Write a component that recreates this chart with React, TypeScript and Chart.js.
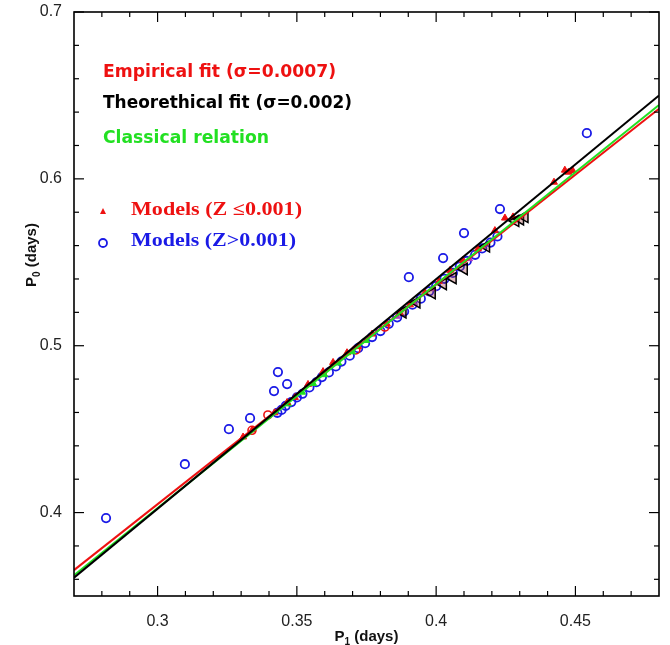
import React, { useEffect, useRef } from 'react';
import { Chart, registerables } from 'chart.js';

Chart.register(...registerables);

// ---- Fit lines (P0 vs P1) ----
const lineX = [0.27, 0.48];
const empiricalY = [0.3655, 0.642];
const theoreticalY = [0.361, 0.65];
const classicalY = [0.3624, 0.6443];

// ---- Models Z > 0.001 (blue open circles) ----
const blueX = [
  0.2815, 0.3098, 0.3256, 0.3332, 0.3418, 0.3432, 0.3465, 0.3902, 0.4025, 0.41, 0.4229, 0.4541,
  0.343, 0.3445, 0.346, 0.348, 0.35, 0.352, 0.3545, 0.357, 0.359, 0.3615, 0.364, 0.366, 0.369,
  0.372, 0.3745, 0.377, 0.38, 0.383, 0.386, 0.3885, 0.3915, 0.3945, 0.3975, 0.4, 0.403, 0.406,
  0.4085, 0.411, 0.414, 0.4165, 0.4195, 0.422,
];
const blueY = [
  0.3967, 0.429, 0.45, 0.4566, 0.4728, 0.4842, 0.477, 0.5411, 0.5525, 0.5675, 0.5819, 0.6274,
  0.4598, 0.4615, 0.464, 0.4662, 0.469, 0.4712, 0.475, 0.4781, 0.4812, 0.484, 0.4876, 0.4905, 0.494,
  0.4985, 0.5015, 0.5052, 0.5088, 0.5131, 0.517, 0.5205, 0.5246, 0.5282, 0.5326, 0.5357, 0.5401, 0.5436,
  0.5475, 0.5508, 0.5545, 0.5583, 0.5618, 0.5655,
];

// ---- Models Z <= 0.001 (red filled triangles) ----
const redX = [
  0.3307, 0.334, 0.342, 0.3465, 0.3493, 0.354, 0.3594, 0.363, 0.368, 0.372, 0.377, 0.3823, 0.387,
  0.3906, 0.396, 0.401, 0.405, 0.4096, 0.415, 0.4211, 0.4247, 0.4276, 0.4423, 0.4462, 0.449, 0.4475,
];
const redY = [
  0.4453, 0.4495, 0.4598, 0.466, 0.469, 0.4768, 0.4845, 0.49, 0.4958, 0.4995, 0.507, 0.513, 0.5196,
  0.5245, 0.5318, 0.5385, 0.5452, 0.5512, 0.558, 0.569, 0.5765, 0.5772, 0.598, 0.6052, 0.605, 0.604,
];

// ---- red open circles ----
const redCircX = [0.3339, 0.3396, 0.3816, 0.3712];
const redCircY = [0.4493, 0.4585, 0.5112, 0.4975];

// ---- black open triangles ----
const blackTriX = [0.388, 0.393, 0.3985, 0.4025, 0.406, 0.41, 0.418, 0.4285, 0.4302, 0.4318];
const blackTriY = [0.52, 0.526, 0.5315, 0.537, 0.5405, 0.546, 0.5595, 0.5748, 0.5758, 0.5772];

// ---- green points ----
const greenX = [0.347, 0.352, 0.356, 0.36, 0.365, 0.37, 0.375];
const greenY = [0.465, 0.472, 0.4772, 0.4825, 0.4895, 0.4962, 0.503];

// ---- magenta points ----
const magX = [0.386, 0.392, 0.399, 0.405, 0.412];
const magY = [0.5175, 0.5255, 0.534, 0.543, 0.552];

// ---- axes ----
const xMajor = [0.3, 0.35, 0.4, 0.45];
const xLabels = ['0.3', '0.35', '0.4', '0.45'];
const xMinor = [0.28, 0.29, 0.31, 0.32, 0.33, 0.34, 0.36, 0.37, 0.38, 0.39, 0.41, 0.42, 0.43, 0.44, 0.46, 0.47];
const yMajor = [0.4, 0.5, 0.6, 0.7];
const yLabels = ['0.4', '0.5', '0.6', '0.7'];
const yMinor = [0.36, 0.38, 0.42, 0.44, 0.46, 0.48, 0.52, 0.54, 0.56, 0.58, 0.62, 0.64, 0.66, 0.68];

const pts = (xs: number[], ys: number[]) => xs.map((v, i) => ({ x: v, y: ys[i] }));

function fitText(ctx: CanvasRenderingContext2D, text: string, x: number, y: number, w: number, font: string, color: string) {
  ctx.save();
  ctx.font = font;
  ctx.fillStyle = color;
  ctx.textAlign = 'left';
  ctx.textBaseline = 'middle';
  const m = ctx.measureText(text).width;
  ctx.translate(x, y);
  ctx.scale(w / m, 1);
  ctx.fillText(text, 0, 0);
  ctx.restore();
}

const decor = {
  id: 'decor',
  afterDraw(chart: any) {
    const { ctx, chartArea: a, scales } = chart;
    const sx = scales.x;
    const sy = scales.y;
    ctx.save();
    ctx.strokeStyle = '#000';
    ctx.lineWidth = 1.2;
    const seg = (x1: number, y1: number, x2: number, y2: number) => {
      ctx.beginPath();
      ctx.moveTo(x1, y1);
      ctx.lineTo(x2, y2);
      ctx.stroke();
    };
    xMinor.forEach((v) => {
      const p = sx.getPixelForValue(v);
      seg(p, a.bottom, p, a.bottom - 5);
      seg(p, a.top, p, a.top + 5);
    });
    xMajor.forEach((v) => {
      const p = sx.getPixelForValue(v);
      seg(p, a.bottom, p, a.bottom - 10);
      seg(p, a.top, p, a.top + 10);
    });
    yMinor.forEach((v) => {
      const p = sy.getPixelForValue(v);
      seg(a.left, p, a.left + 5, p);
      seg(a.right, p, a.right - 5, p);
    });
    yMajor.forEach((v) => {
      const p = sy.getPixelForValue(v);
      seg(a.left, p, a.left + 10, p);
      seg(a.right, p, a.right - 10, p);
    });
    ctx.lineWidth = 1.6;
    ctx.strokeRect(a.left, a.top, a.right - a.left, a.bottom - a.top);

    // tick labels
    ctx.fillStyle = '#222';
    ctx.font = '16px "Liberation Sans", Arial, sans-serif';
    ctx.textAlign = 'center';
    ctx.textBaseline = 'middle';
    xMajor.forEach((v, i) => {
      ctx.fillText(xLabels[i], sx.getPixelForValue(v), a.bottom + 26);
    });
    ctx.textAlign = 'right';
    yMajor.forEach((v, i) => {
      ctx.fillText(yLabels[i], a.left - 12, sy.getPixelForValue(v));
    });

    // axis titles
    const drawSubTitle = (main: string, sub: string, rest: string) => {
      ctx.font = 'bold 15px "Liberation Sans", Arial, sans-serif';
      const w1 = ctx.measureText(main).width;
      const w3 = ctx.measureText(rest).width;
      ctx.font = 'bold 10px "Liberation Sans", Arial, sans-serif';
      const w2 = ctx.measureText(sub).width;
      const total = w1 + w2 + w3;
      ctx.textAlign = 'left';
      ctx.textBaseline = 'middle';
      ctx.fillStyle = '#111';
      ctx.font = 'bold 15px "Liberation Sans", Arial, sans-serif';
      ctx.fillText(main, -total / 2, 0);
      ctx.font = 'bold 10px "Liberation Sans", Arial, sans-serif';
      ctx.fillText(sub, -total / 2 + w1, 5);
      ctx.font = 'bold 15px "Liberation Sans", Arial, sans-serif';
      ctx.fillText(rest, -total / 2 + w1 + w2, 0);
    };
    ctx.save();
    ctx.translate((a.left + a.right) / 2, a.bottom + 41);
    drawSubTitle('P', '1', ' (days)');
    ctx.restore();
    ctx.save();
    ctx.translate(32, 255);
    ctx.rotate(-Math.PI / 2);
    drawSubTitle('P', '0', ' (days)');
    ctx.restore();

    // legend
    const lf = 'bold 17px "DejaVu Sans", sans-serif';
    fitText(ctx, 'Empirical fit (\u03C3=0.0007)', 103, 73, 233, lf, '#ee1111');
    fitText(ctx, 'Theorethical fit (\u03C3=0.002)', 103, 104, 249, lf, '#000000');
    fitText(ctx, 'Classical relation', 103, 139, 166, lf, '#22e022');
    const mf = 'bold 18px "Liberation Serif", serif';
    fitText(ctx, 'Models (Z \u22640.001)', 131, 210, 171, mf, '#ee1111');
    fitText(ctx, 'Models (Z>0.001)', 131, 241, 165, mf, '#1a1ae6');
    // legend markers
    ctx.fillStyle = '#ee1111';
    ctx.beginPath();
    ctx.moveTo(103, 208);
    ctx.lineTo(106, 214);
    ctx.lineTo(100, 214);
    ctx.closePath();
    ctx.fill();
    ctx.strokeStyle = '#1a1ae6';
    ctx.lineWidth = 1.8;
    ctx.beginPath();
    ctx.arc(103, 243, 4, 0, Math.PI * 2);
    ctx.stroke();
    ctx.restore();
  },
};

export default function App() {
  const ref = useRef<HTMLCanvasElement | null>(null);
  useEffect(() => {
    if (!ref.current) return;
    const lineDs = (ys: number[], color: string) => ({
      data: pts(lineX, ys),
      showLine: true,
      borderColor: color,
      borderWidth: 2,
      pointRadius: 0,
      fill: false,
    });
    const chart = new Chart(ref.current, {
      type: 'scatter',
      data: {
        datasets: [
          lineDs(theoreticalY, '#000000'),
          lineDs(classicalY, '#22e022'),
          lineDs(empiricalY, '#ee1111'),
          {
            data: pts(blackTriX, blackTriY),
            pointStyle: 'triangle',
            rotation: 270,
            pointRadius: 6.5,
            borderColor: '#000',
            borderWidth: 1.5,
            backgroundColor: 'rgba(170,60,60,0.35)',
          },
          {
            data: pts(redX, redY),
            pointStyle: 'triangle',
            pointRadius: 4,
            borderColor: '#ee1111',
            borderWidth: 1,
            backgroundColor: '#ee1111',
          },
          {
            data: pts(magX, magY),
            pointStyle: 'triangle',
            pointRadius: 3.5,
            borderColor: '#b040c0',
            borderWidth: 1,
            backgroundColor: '#b040c0',
          },
          {
            data: pts(greenX, greenY),
            pointStyle: 'triangle',
            pointRadius: 3.5,
            borderColor: '#22e022',
            borderWidth: 1,
            backgroundColor: '#22e022',
          },
          {
            data: pts(redCircX, redCircY),
            pointStyle: 'circle',
            pointRadius: 4,
            borderColor: '#ee1111',
            borderWidth: 1.6,
            backgroundColor: 'rgba(0,0,0,0)',
          },
          {
            data: pts(blueX, blueY),
            pointStyle: 'circle',
            pointRadius: 4.2,
            borderColor: '#1a1ae6',
            borderWidth: 1.8,
            backgroundColor: 'rgba(0,0,0,0)',
          },
        ],
      },
      options: {
        responsive: false,
        animation: false,
        layout: { padding: { top: 12, right: 11, left: 0, bottom: 0 } },
        plugins: { legend: { display: false }, tooltip: { enabled: false } },
        scales: {
          x: {
            type: 'linear',
            min: 0.27,
            max: 0.48,
            grid: { display: false },
            border: { display: false },
            ticks: { display: false },
            afterFit: (s: any) => {
              s.height = 49;
            },
          },
          y: {
            type: 'linear',
            min: 0.35,
            max: 0.7,
            grid: { display: false },
            border: { display: false },
            ticks: { display: false },
            afterFit: (s: any) => {
              s.width = 74;
            },
          },
        },
      },
      plugins: [decor],
    } as any);
    return () => chart.destroy();
  }, []);
  return (
    <div style={{ position: 'absolute', left: 0, top: 0, width: 670, height: 645, background: '#fff' }}>
      <canvas ref={ref} width={670} height={645} style={{ width: 670, height: 645 }} />
    </div>
  );
}
